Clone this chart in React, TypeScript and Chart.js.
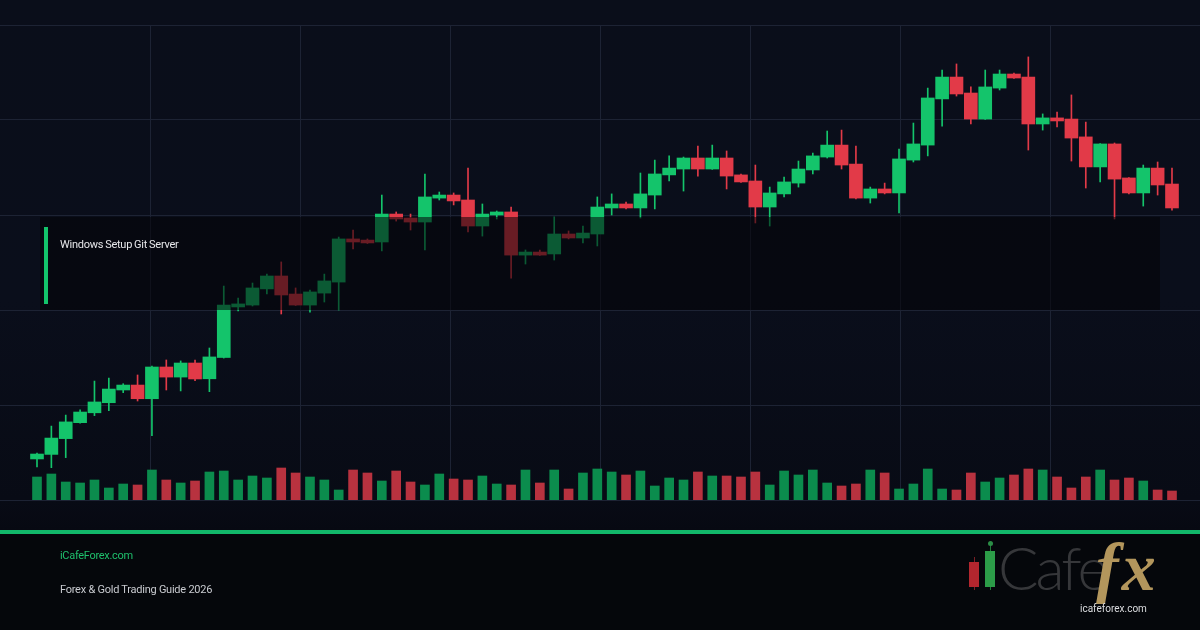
import React, { useEffect, useRef } from 'react';
import { Chart, registerables } from 'chart.js';

Chart.register(...registerables);

// ---- Data (gold price candles, 80 sessions) ----
const OPEN = [
  1921.6, 1924.0, 1932.3, 1940.7, 1945.9, 1951.2, 1957.9, 1960.5, 1953.3, 1970.0,
  1964.7, 1972.1, 1963.8, 1975.0, 2001.6, 2002.6, 2011.1, 2017.9, 2008.4, 2002.6,
  2008.9, 2014.7, 2037.4, 2036.8, 2035.8, 2050.5, 2048.4, 2046.3, 2058.9, 2060.5,
  2057.9, 2044.2, 2050.0, 2051.6, 2028.9, 2030.5, 2029.5, 2040.0, 2037.9, 2040.0,
  2053.7, 2055.8, 2053.7, 2060.5, 2071.1, 2074.2, 2080.0, 2074.2, 2080.0, 2071.1,
  2067.9, 2054.2, 2061.1, 2066.8, 2073.7, 2080.5, 2086.8, 2076.8, 2058.9, 2063.7,
  2061.6, 2078.9, 2086.8, 2111.1, 2122.6, 2114.2, 2100.5, 2116.8, 2124.2, 2122.6,
  2097.9, 2101.1, 2100.5, 2091.1, 2075.3, 2087.4, 2069.5, 2061.6, 2074.7, 2066.3,
];
const HIGH = [
  1924.7, 1938.9, 1944.7, 1947.4, 1962.6, 1964.2, 1961.2, 1965.8, 1970.5, 1973.7,
  1973.2, 1973.7, 1980.0, 2012.6, 2006.3, 2014.2, 2018.9, 2025.3, 2011.6, 2010.5,
  2018.9, 2038.4, 2042.1, 2037.4, 2060.5, 2051.6, 2050.5, 2071.6, 2062.1, 2061.6,
  2074.7, 2055.8, 2052.1, 2054.2, 2031.6, 2031.6, 2048.9, 2041.6, 2044.2, 2059.5,
  2061.1, 2056.8, 2072.1, 2078.9, 2081.1, 2080.5, 2086.3, 2086.8, 2083.7, 2071.6,
  2076.3, 2064.7, 2070.0, 2078.4, 2082.6, 2094.2, 2094.7, 2086.3, 2064.7, 2066.8,
  2084.7, 2098.4, 2116.8, 2126.3, 2129.5, 2117.4, 2126.3, 2126.3, 2124.7, 2133.2,
  2103.2, 2104.2, 2113.2, 2098.9, 2087.6, 2087.9, 2069.7, 2076.3, 2077.9, 2074.7,
];
const LOW = [
  1917.4, 1917.0, 1922.3, 1940.5, 1944.4, 1947.0, 1956.5, 1952.1, 1933.8, 1957.9,
  1957.4, 1962.8, 1957.0, 1974.7, 1999.5, 2002.1, 2008.4, 1997.9, 2002.4, 1998.9,
  2004.2, 2000.0, 2032.1, 2035.0, 2031.1, 2046.8, 2042.1, 2031.6, 2057.9, 2055.3,
  2041.1, 2038.9, 2047.9, 2016.8, 2024.2, 2028.7, 2026.3, 2037.4, 2035.3, 2033.7,
  2050.0, 2053.2, 2048.4, 2053.2, 2067.9, 2062.6, 2070.5, 2074.0, 2063.7, 2067.2,
  2045.8, 2044.2, 2059.5, 2064.7, 2071.6, 2080.0, 2074.2, 2058.4, 2056.3, 2061.1,
  2051.1, 2077.9, 2081.1, 2096.8, 2112.6, 2097.9, 2100.3, 2115.8, 2121.9, 2084.2,
  2094.7, 2096.3, 2078.4, 2064.2, 2067.4, 2047.9, 2061.1, 2054.7, 2060.5, 2052.6,
];
const CLOSE = [
  1924.2, 1932.6, 1941.1, 1946.3, 1951.6, 1958.4, 1960.5, 1953.3, 1970.0, 1964.7,
  1972.1, 1963.7, 1975.3, 2002.6, 2003.2, 2011.6, 2017.9, 2007.9, 2002.6, 2009.5,
  2015.3, 2037.4, 2035.8, 2035.3, 2050.5, 2047.9, 2046.3, 2059.5, 2060.5, 2057.4,
  2044.2, 2050.5, 2051.6, 2028.9, 2030.5, 2028.9, 2040.0, 2037.9, 2040.5, 2054.2,
  2055.8, 2053.7, 2061.1, 2071.6, 2074.7, 2080.0, 2074.2, 2080.0, 2070.5, 2067.4,
  2054.2, 2061.6, 2067.4, 2074.2, 2081.1, 2086.8, 2076.3, 2058.9, 2063.7, 2061.6,
  2079.5, 2087.4, 2111.6, 2122.6, 2113.7, 2100.5, 2117.4, 2124.2, 2122.1, 2097.9,
  2101.1, 2099.5, 2090.5, 2075.3, 2087.4, 2068.9, 2061.6, 2074.7, 2065.8, 2053.7,
];
const VOLUME = [
  2300, 2600, 1800, 1700, 2000, 1200, 1600, 1500, 3000, 2000,
  1700, 1900, 2800, 2900, 2000, 2400, 2200, 3200, 2700, 2300,
  2000, 1000, 3000, 2700, 1900, 2900, 1800, 1500, 2600, 2100,
  2000, 2400, 1600, 1500, 3000, 1700, 3000, 1100, 2700, 3100,
  2800, 2500, 2900, 1400, 2200, 2000, 2800, 2400, 2400, 2300,
  2800, 1500, 2900, 2500, 3000, 1700, 1400, 1600, 3000, 2700,
  1100, 1600, 3100, 1100, 1000, 2700, 1800, 2200, 2500, 3100,
  3000, 2300, 1200, 2300, 3000, 2000, 2200, 1900, 1000, 900,
];
const SESSIONS = OPEN.map((_, i) => i);
const PRICE_GRID = [1900, 1950, 2000, 2050, 2100, 2150];
const PRICE_MIN = 1900;
const PRICE_MAX = 2150;
const VOLUME_MAX = 47500;

const TITLE = 'Windows Setup Git Server';
const SITE = 'iCafeForex.com';
const SUBTITLE = 'Forex & Gold Trading Guide 2026';
const LOGO_URL = 'icafeforex.com';

// ---- Style ----
const GREEN = '#14c46b';
const RED = '#e23a48';
const VOL_GREEN = '#0b8c4d';
const VOL_RED = '#b8323f';
const GRID = '#1d2334';
const FIRST_X = 37;
const STEP_X = 14.367;
const CANVAS_W = 1200;
const X_MIN = -FIRST_X / STEP_X;
const X_MAX = X_MIN + CANVAS_W / STEP_X;
const V_GRID = [150, 300, 450, 600, 750, 900, 1050];

const isUp = (i: number) => CLOSE[i] >= OPEN[i];

export default function App() {
  const ref = useRef<HTMLCanvasElement | null>(null);

  useEffect(() => {
    document.body.style.margin = '0';
    document.body.style.background = '#05070b';
    const canvas = ref.current;
    if (!canvas) return;
    const chart = new Chart(canvas, {
      type: 'bar',
      data: {
        datasets: [
          {
            label: 'Body',
            data: SESSIONS.map((i) => ({ x: i, y: [OPEN[i], CLOSE[i]] })) as any,
            backgroundColor: (c: any) => (isUp(c.dataIndex) ? GREEN : RED),
            barThickness: 13,
            grouped: false,
            order: 0,
            xAxisID: 'x',
            yAxisID: 'y',
          } as any,
          {
            label: 'Wick',
            data: SESSIONS.map((i) => ({ x: i, y: [LOW[i], HIGH[i]] })) as any,
            backgroundColor: (c: any) => (isUp(c.dataIndex) ? GREEN : RED),
            barThickness: 1,
            grouped: false,
            order: 1,
            xAxisID: 'x',
            yAxisID: 'y',
          } as any,
          {
            label: 'Volume',
            data: SESSIONS.map((i) => ({ x: i, y: VOLUME[i] })) as any,
            backgroundColor: (c: any) => (isUp(c.dataIndex) ? VOL_GREEN : VOL_RED),
            barThickness: 9,
            grouped: false,
            order: 2,
            xAxisID: 'x',
            yAxisID: 'yVol',
          } as any,
        ],
      },
      options: {
        responsive: false,
        animation: false,
        events: [],
        layout: { padding: { top: 25, bottom: 30, left: 0, right: 0 } },
        plugins: { legend: { display: false }, tooltip: { enabled: false } },
        scales: {
          x: {
            type: 'linear',
            display: false,
            min: X_MIN,
            max: X_MAX,
            offset: false,
            grid: { offset: false },
          },
          xg: {
            type: 'linear',
            position: 'bottom',
            min: 0,
            max: CANVAS_W,
            offset: false,
            grid: { offset: false, color: GRID, lineWidth: 1, drawTicks: false },
            border: { display: false },
            ticks: { display: false },
            afterBuildTicks: (s: any) => {
              s.ticks = V_GRID.map((v) => ({ value: v }));
            },
          },
          y: {
            type: 'linear',
            position: 'left',
            min: PRICE_MIN,
            max: PRICE_MAX,
            beginAtZero: false,
            grid: { color: GRID, lineWidth: 1, drawTicks: false },
            border: { display: false },
            ticks: { display: false },
            afterBuildTicks: (s: any) => {
              s.ticks = PRICE_GRID.map((v) => ({ value: v }));
            },
          },
          yVol: {
            type: 'linear',
            display: false,
            min: 0,
            max: VOLUME_MAX,
          },
        } as any,
      },
    } as any);
    return () => chart.destroy();
  }, []);

  const abs = (s: React.CSSProperties): React.CSSProperties => ({ position: 'absolute', ...s });

  return (
    <div
      style={{
        position: 'relative',
        width: 1200,
        height: 630,
        overflow: 'hidden',
        background: 'linear-gradient(180deg, #0a0e1a 0px, #0a0e1b 300px, #080b15 500px, #070912 530px)',
        fontFamily: 'Roboto, "Noto Sans", sans-serif',
      }}
    >
      <canvas ref={ref} width={1200} height={530} style={abs({ left: 0, top: 0, width: 1200, height: 530 })} />
      {/* Title card overlay */}
      <div style={abs({ left: 40, top: 217, width: 1120, height: 93, background: 'rgba(3,4,8,0.55)' })} />
      <div style={abs({ left: 44, top: 227, width: 4, height: 77, background: '#13c46b' })} />
      <div
        style={abs({
          left: 60,
          top: 238,
          fontSize: 11,
          lineHeight: '14px',
          color: '#e6e7ea',
          letterSpacing: -0.25,
          wordSpacing: -0.5,
          whiteSpace: 'nowrap',
        })}
      >
        {TITLE}
      </div>
      {/* Footer */}
      <div style={abs({ left: 0, top: 530, width: 1200, height: 4, background: '#12b76a' })} />
      <div style={abs({ left: 0, top: 534, width: 1200, height: 96, background: '#05070b' })} />
      <div
        style={abs({ left: 60, top: 549, fontSize: 11, lineHeight: '14px', color: '#1fbf6c', letterSpacing: -0.3, whiteSpace: 'nowrap' })}
      >
        {SITE}
      </div>
      <div
        style={abs({ left: 60, top: 583, fontSize: 11, lineHeight: '14px', color: '#c9cbd0', letterSpacing: -0.25, whiteSpace: 'nowrap' })}
      >
        {SUBTITLE}
      </div>
      {/* Logo */}
      <div style={abs({ left: 974, top: 557, width: 1, height: 33, background: '#7a1e24' })} />
      <div style={abs({ left: 969, top: 562, width: 10, height: 25, background: '#b3262e' })} />
      <div style={abs({ left: 990, top: 542, width: 1, height: 48, background: '#1f7a37' })} />
      <div style={abs({ left: 988, top: 541, width: 5, height: 5, borderRadius: 3, background: '#2b8d46' })} />
      <div style={abs({ left: 985, top: 551, width: 10, height: 36, background: '#2c9c48' })} />
      <div
        style={abs({
          left: 998,
          top: 531,
          fontFamily: 'Lato, sans-serif',
          fontWeight: 300,
          fontSize: 60,
          lineHeight: '72px',
          color: '#36373a',
          letterSpacing: -3,
          whiteSpace: 'nowrap',
        })}
      >
        Cafe
      </div>
      <div
        style={abs({
          left: 1096,
          top: 531,
          fontFamily: '"Liberation Serif", serif',
          fontWeight: 700,
          fontStyle: 'italic',
          fontSize: 68,
          lineHeight: '72px',
          color: '#b3965c',
          letterSpacing: 3,
          whiteSpace: 'nowrap',
        })}
      >
        fx
      </div>
      <div style={abs({ left: 1080, top: 602, fontSize: 10, lineHeight: '13px', color: '#dcdde0', whiteSpace: 'nowrap' })}>
        {LOGO_URL}
      </div>
    </div>
  );
}
